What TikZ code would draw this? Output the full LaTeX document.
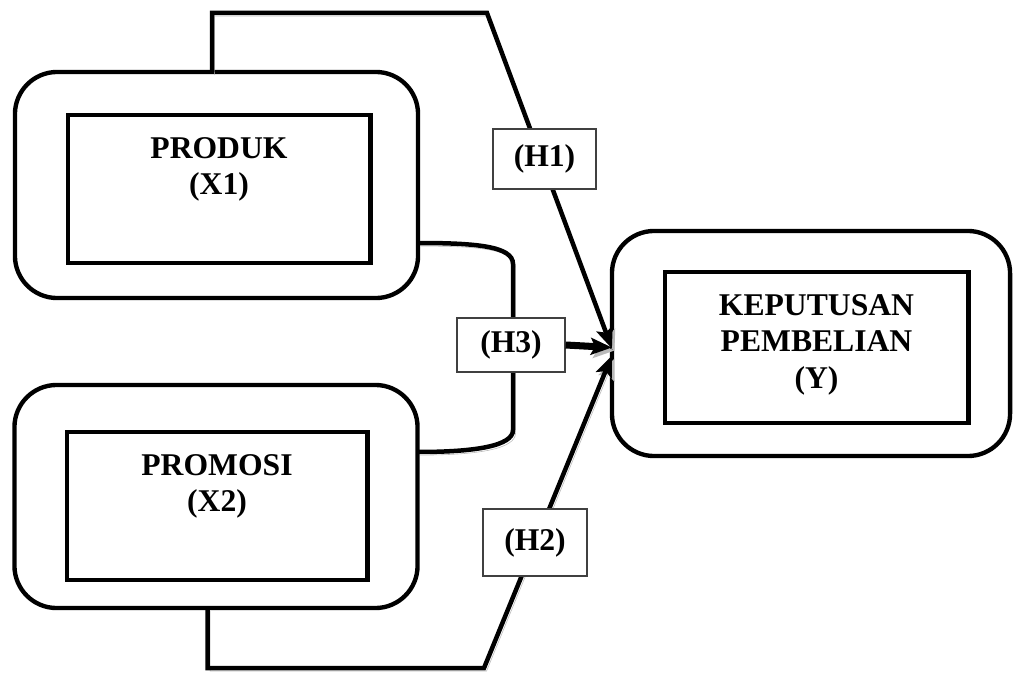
\documentclass[tikz,border=0pt]{standalone}
\usepackage{fontspec}
\setmainfont{Liberation Serif}
\usetikzlibrary{positioning, arrows.meta, calc, backgrounds}
\tikzset{
    outerbox/.style={rectangle, rounded corners=30pt, draw=black, line width=3.1pt, inner sep=0pt, outer sep=0pt, minimum width=10.075cm},
    innerbox/.style={rectangle, draw=black, line width=3.5pt, inner sep=0pt, outer sep=0pt},
    varlab/.style={anchor=north, inner sep=0pt, yshift=-15.5pt, align=center, font=\fontsize{22.5}{26}\selectfont\bfseries},
    hbox/.style={rectangle, draw=black!75, line width=0.9pt, fill=white, inner sep=0pt, font=\fontsize{22.5}{26}\selectfont\bfseries},
    conn/.style={line width=3.2pt, line join=miter, preaction={draw=gray!55, transform canvas={shift={(1.8pt,-2.2pt)}}}},
    arrconn/.style={conn, -{Stealth[length=15pt, width=12pt, inset=3pt]}}
}
\begin{document}
\begin{tikzpicture}[x=0.025cm, y=-0.025cm]
        \useasboundingbox[fill=white] (0,0) rectangle (1016,675);

        % Variabel X
        \node[outerbox, minimum height=5.65cm] (x1out) at (216.5,185) {};
        \node[innerbox, minimum width=7.55cm, minimum height=3.7cm, label={[varlab]north:PRODUK\\(X1)}] (x1in) at (219,189) {};

        \node[outerbox, minimum height=5.575cm] (x2out) at (216,496.5) {};
        \node[innerbox, minimum width=7.5cm, minimum height=3.7cm, label={[varlab]north:PROMOSI\\(X2)}] (x2in) at (217,506) {};

        % Variabel Y
        \node[outerbox, minimum width=9.95cm, minimum height=5.625cm] (yout) at (811,343.5) {};
        \node[innerbox, minimum width=7.575cm, minimum height=3.775cm, label={[varlab]north:KEPUTUSAN\\PEMBELIAN\\(Y)}] (yin) at (816.5,347.5) {};

        % Hipotesis H1 dan H2
        \coordinate (t1) at (487,13);
        \coordinate (t2) at (484,668);
        \draw[arrconn] ($(x1out.north)+(-4.5,0)$) |- (t1) -- ($(yout.west)+(0,5)$);
        \draw[arrconn] ($(x2out.south)+(-8.5,0)$) |- (t2) -- ($(yout.west)+(0,12)$);
        \node[hbox, minimum width=2.575cm, minimum height=1.5cm] (h1) at (544.5,159) {(H1)};
        \node[hbox, minimum width=2.6cm, minimum height=1.675cm] (h2) at (535,542.5) {(H2)};

        % Hipotesis H3 (simultan)
        \draw[conn] ($(x1out.east)+(0,58)$) .. controls (475,243) and (513,246) .. (513,264)
            -- (513,430) .. controls (513,446) and (475,452) .. ($(x2out.east)+(0,-44.5)$);
        \node[hbox, minimum width=2.7cm, minimum height=1.35cm] (h3) at (511,345) {(H3)};
        \draw[arrconn, line width=5pt] (h3.east) -- ($(yout.west)+(0,4)$);
    \end{tikzpicture}
\end{document}
